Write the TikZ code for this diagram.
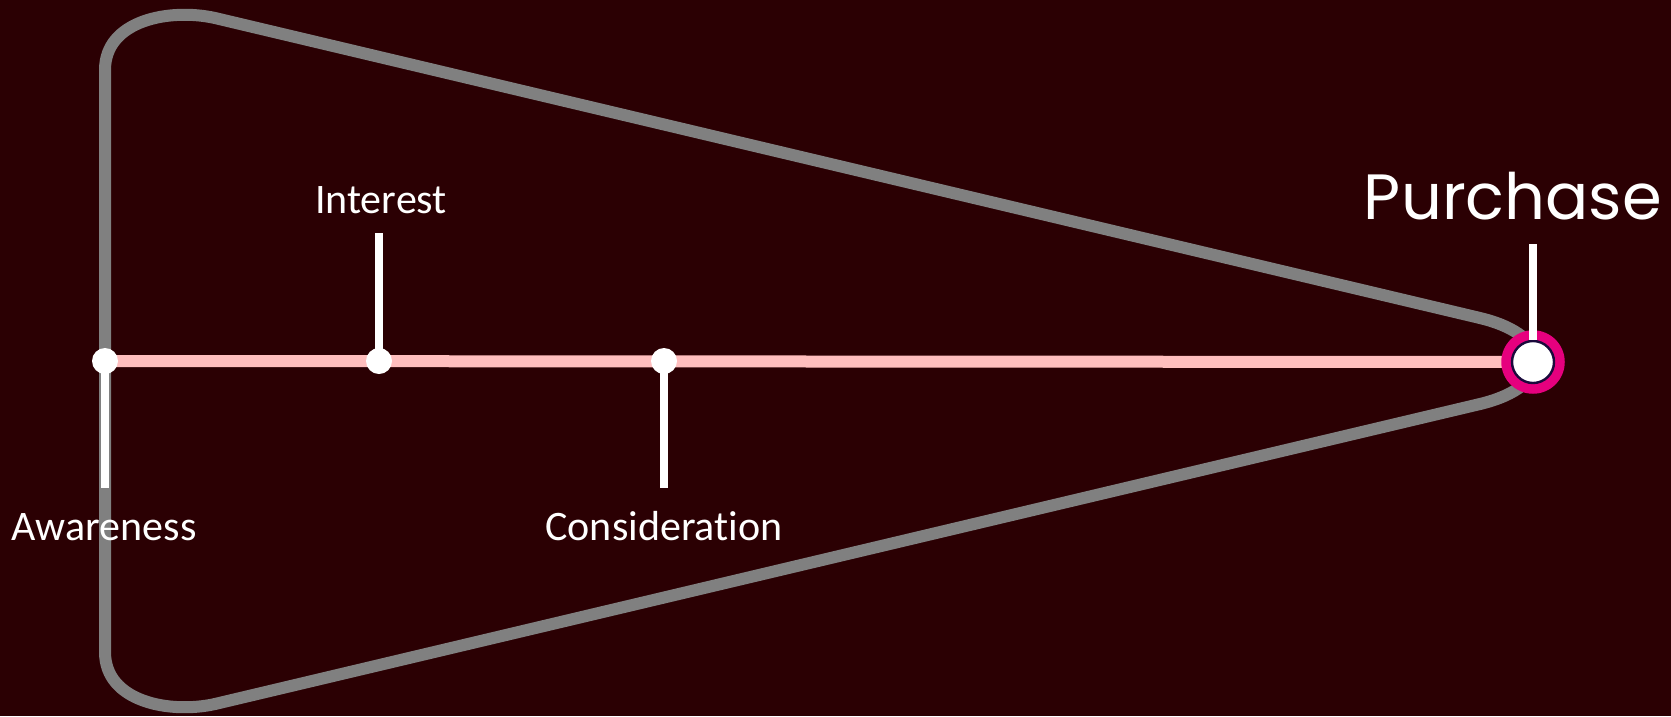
\documentclass[tikz,border=0pt]{standalone}
\usepackage{fontspec}
\setmainfont[Ligatures=NoCommon]{Carlito}
\newfontfamily\purchfont{Poppins}
\definecolor{bgcol}{RGB}{43,0,3}
\definecolor{outlinegray}{RGB}{128,128,128}
\definecolor{pinkline}{RGB}{255,190,190}
\definecolor{magentaring}{RGB}{230,0,126}
\definecolor{navyring}{RGB}{26,10,60}
\tikzset{
  outline/.style={draw=outlinegray, line width=12pt, line join=round},
  mainline/.style={draw=pinkline, line width=12pt},
  stembar/.style={draw=white, line width=8pt},
  dotnode/.style={circle, fill=white, inner sep=0pt, minimum size=26pt},
  lbl/.style={text=white, anchor=base, inner sep=0pt, font=\fontsize{42}{50}\selectfont},
}
\begin{document}
\begin{tikzpicture}[x=1pt,y=-1pt]
\fill[bgcol] (0,0) rectangle (1671,716);
\useasboundingbox (0,0) rectangle (1671,716);

% funnel outline
\draw[outline] (105,361) -- (105,70) .. controls (105,20) and (170,8) .. (215,18)
  -- (1480,318) .. controls (1555,336) and (1555,386) .. (1480,404)
  -- (215,704) .. controls (170,714) and (105,702) .. (105,652) -- cycle;

% positions
\coordinate (awc) at (105,361);
\coordinate (inc) at (379,361);
\coordinate (coc) at (664,361);
\coordinate (puc) at (1533,362);
\coordinate (awend) at (105,488);
\coordinate (inend) at (379,233);
\coordinate (coend) at (664,488);
\coordinate (puend) at (1533,244);

% main line
\draw[mainline] (awc) -- (puc);

% dots
\node[dotnode] (aw) at (awc) {};
\node[dotnode] (in) at (inc) {};
\node[dotnode] (co) at (coc) {};
\node[circle, fill=magentaring, inner sep=0pt, minimum size=63.5pt] (puring) at (puc) {};
\node[circle, fill=white, draw=navyring, line width=2.4pt, inner sep=0pt, minimum size=42pt] (pu) at (puc) {};

% stems
\draw[stembar] (aw.center) -- (awend);
\draw[stembar] (in.center) -- (inend);
\draw[stembar] (co.center) -- (coend);
\draw[stembar] (pu.north) -- (puend);

% labels
\node[lbl] (awl) at (104,540) {Awareness};
\node[lbl] (inl) at (381,213) {Interest};
\node[lbl] (col) at (664,540) {Consideration};
\node[text=white, anchor=base, inner sep=0pt, font=\purchfont\fontsize{64}{76}\selectfont] (pul) at (1513,219) {Purchase};
\end{tikzpicture}
\end{document}
